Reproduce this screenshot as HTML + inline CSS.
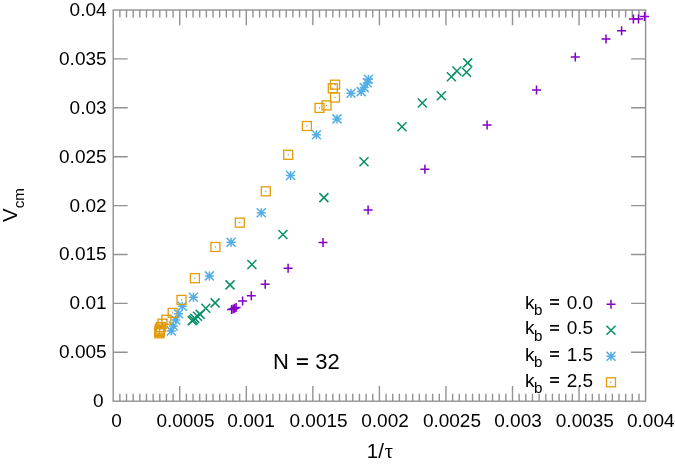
<!DOCTYPE html><html lang="en"><head><meta charset="utf-8"><style>html,body{margin:0;padding:0;background:#fff;}svg{display:block;will-change:transform;}text{font-family:"Liberation Sans",sans-serif;fill:#000;}</style></head><body>
<svg width="675" height="465" viewBox="0 0 675 465">
<rect width="675" height="465" fill="#fff"/>
<path d="M119.86 401.20V393.80M119.86 10.00V17.40M126.51 401.20V393.80M126.51 10.00V17.40M133.16 401.20V393.80M133.16 10.00V17.40M139.82 401.20V393.80M139.82 10.00V17.40M146.47 401.20V393.80M146.47 10.00V17.40M153.13 401.20V393.80M153.13 10.00V17.40M159.78 401.20V393.80M159.78 10.00V17.40M166.44 401.20V393.80M166.44 10.00V17.40M173.09 401.20V393.80M173.09 10.00V17.40M179.75 401.20V386.00M179.75 10.00V25.20M186.41 401.20V393.80M186.41 10.00V17.40M193.06 401.20V393.80M193.06 10.00V17.40M199.72 401.20V393.80M199.72 10.00V17.40M206.37 401.20V393.80M206.37 10.00V17.40M213.02 401.20V393.80M213.02 10.00V17.40M219.68 401.20V393.80M219.68 10.00V17.40M226.33 401.20V393.80M226.33 10.00V17.40M232.99 401.20V393.80M232.99 10.00V17.40M239.64 401.20V393.80M239.64 10.00V17.40M246.30 401.20V386.00M246.30 10.00V25.20M252.96 401.20V393.80M252.96 10.00V17.40M259.61 401.20V393.80M259.61 10.00V17.40M266.26 401.20V393.80M266.26 10.00V17.40M272.92 401.20V393.80M272.92 10.00V17.40M279.57 401.20V393.80M279.57 10.00V17.40M286.23 401.20V393.80M286.23 10.00V17.40M292.88 401.20V393.80M292.88 10.00V17.40M299.54 401.20V393.80M299.54 10.00V17.40M306.19 401.20V393.80M306.19 10.00V17.40M312.85 401.20V386.00M312.85 10.00V25.20M319.50 401.20V393.80M319.50 10.00V17.40M326.16 401.20V393.80M326.16 10.00V17.40M332.81 401.20V393.80M332.81 10.00V17.40M339.47 401.20V393.80M339.47 10.00V17.40M346.12 401.20V393.80M346.12 10.00V17.40M352.78 401.20V393.80M352.78 10.00V17.40M359.44 401.20V393.80M359.44 10.00V17.40M366.09 401.20V393.80M366.09 10.00V17.40M372.75 401.20V393.80M372.75 10.00V17.40M379.40 401.20V386.00M379.40 10.00V25.20M386.06 401.20V393.80M386.06 10.00V17.40M392.71 401.20V393.80M392.71 10.00V17.40M399.37 401.20V393.80M399.37 10.00V17.40M406.02 401.20V393.80M406.02 10.00V17.40M412.68 401.20V393.80M412.68 10.00V17.40M419.33 401.20V393.80M419.33 10.00V17.40M425.98 401.20V393.80M425.98 10.00V17.40M432.64 401.20V393.80M432.64 10.00V17.40M439.29 401.20V393.80M439.29 10.00V17.40M445.95 401.20V386.00M445.95 10.00V25.20M452.61 401.20V393.80M452.61 10.00V17.40M459.26 401.20V393.80M459.26 10.00V17.40M465.91 401.20V393.80M465.91 10.00V17.40M472.57 401.20V393.80M472.57 10.00V17.40M479.23 401.20V393.80M479.23 10.00V17.40M485.88 401.20V393.80M485.88 10.00V17.40M492.53 401.20V393.80M492.53 10.00V17.40M499.19 401.20V393.80M499.19 10.00V17.40M505.84 401.20V393.80M505.84 10.00V17.40M512.50 401.20V386.00M512.50 10.00V25.20M519.15 401.20V393.80M519.15 10.00V17.40M525.81 401.20V393.80M525.81 10.00V17.40M532.47 401.20V393.80M532.47 10.00V17.40M539.12 401.20V393.80M539.12 10.00V17.40M545.78 401.20V393.80M545.78 10.00V17.40M552.43 401.20V393.80M552.43 10.00V17.40M559.09 401.20V393.80M559.09 10.00V17.40M565.74 401.20V393.80M565.74 10.00V17.40M572.39 401.20V393.80M572.39 10.00V17.40M579.05 401.20V386.00M579.05 10.00V25.20M585.71 401.20V393.80M585.71 10.00V17.40M592.36 401.20V393.80M592.36 10.00V17.40M599.01 401.20V393.80M599.01 10.00V17.40M605.67 401.20V393.80M605.67 10.00V17.40M612.33 401.20V393.80M612.33 10.00V17.40M618.98 401.20V393.80M618.98 10.00V17.40M625.63 401.20V393.80M625.63 10.00V17.40M632.29 401.20V393.80M632.29 10.00V17.40M638.95 401.20V393.80M638.95 10.00V17.40M113.20 352.30H127.70M645.60 352.30H631.10M113.20 303.40H127.70M645.60 303.40H631.10M113.20 254.50H127.70M645.60 254.50H631.10M113.20 205.60H127.70M645.60 205.60H631.10M113.20 156.70H127.70M645.60 156.70H631.10M113.20 107.80H127.70M645.60 107.80H631.10M113.20 58.90H127.70M645.60 58.90H631.10" stroke="#929292" stroke-width="1.4" fill="none"/>
<rect x="113.20" y="10.00" width="532.40" height="391.20" stroke="#929292" stroke-width="1.4" fill="none"/>
<text x="103.6" y="407.10" font-size="19" text-anchor="end">0</text>
<text x="106.6" y="358.20" font-size="19" text-anchor="end">0.005</text>
<text x="106.6" y="309.30" font-size="19" text-anchor="end">0.01</text>
<text x="106.6" y="260.40" font-size="19" text-anchor="end">0.015</text>
<text x="106.6" y="211.50" font-size="19" text-anchor="end">0.02</text>
<text x="106.6" y="162.60" font-size="19" text-anchor="end">0.025</text>
<text x="106.6" y="113.70" font-size="19" text-anchor="end">0.03</text>
<text x="106.6" y="64.80" font-size="19" text-anchor="end">0.035</text>
<text x="106.6" y="15.90" font-size="19" text-anchor="end">0.04</text>
<text x="116.60" y="427.0" font-size="19" text-anchor="middle">0</text>
<text x="185.45" y="427.0" font-size="19" text-anchor="middle">0.0005</text>
<text x="251.10" y="427.0" font-size="19" text-anchor="middle">0.001</text>
<text x="318.55" y="427.0" font-size="19" text-anchor="middle">0.0015</text>
<text x="385.00" y="427.0" font-size="19" text-anchor="middle">0.002</text>
<text x="451.95" y="427.0" font-size="19" text-anchor="middle">0.0025</text>
<text x="518.00" y="427.0" font-size="19" text-anchor="middle">0.003</text>
<text x="584.85" y="427.0" font-size="19" text-anchor="middle">0.0035</text>
<text x="650.80" y="427.0" font-size="19" text-anchor="middle">0.004</text>
<text x="366.8" y="458.2" font-size="20.5">1/<tspan font-family="Liberation Serif" dx="0.8">τ</tspan></text>
<text transform="translate(17.3 222) rotate(-90)" font-size="20.5">V<tspan font-size="15.2" dy="6.9">cm</tspan></text>
<rect x="296.9" y="358.25" width="11" height="1.9" fill="#000"/><rect x="296.9" y="363.05" width="11" height="1.9" fill="#000"/>
<text y="369.2" font-size="22"><tspan x="273.1">N</tspan><tspan x="315.2">32</tspan></text>
<g fill="none" stroke-width="1.5" stroke-linecap="butt">
<path d="M227.10 309.50H236.10M231.60 305.00V314.00" stroke="#8400c4"/>
<path d="M228.70 308.90H237.70M233.20 304.40V313.40" stroke="#8400c4"/>
<path d="M230.20 308.20H239.20M234.70 303.70V312.70" stroke="#8400c4"/>
<path d="M231.60 307.60H240.60M236.10 303.10V312.10" stroke="#8400c4"/>
<path d="M238.10 301.10H247.10M242.60 296.60V305.60" stroke="#8400c4"/>
<path d="M246.80 295.70H255.80M251.30 291.20V300.20" stroke="#8400c4"/>
<path d="M260.70 284.30H269.70M265.20 279.80V288.80" stroke="#8400c4"/>
<path d="M283.60 268.20H292.60M288.10 263.70V272.70" stroke="#8400c4"/>
<path d="M318.50 242.60H327.50M323.00 238.10V247.10" stroke="#8400c4"/>
<path d="M363.60 209.90H372.60M368.10 205.40V214.40" stroke="#8400c4"/>
<path d="M420.40 169.30H429.40M424.90 164.80V173.80" stroke="#8400c4"/>
<path d="M482.60 125.00H491.60M487.10 120.50V129.50" stroke="#8400c4"/>
<path d="M532.00 89.90H541.00M536.50 85.40V94.40" stroke="#8400c4"/>
<path d="M570.80 56.90H579.80M575.30 52.40V61.40" stroke="#8400c4"/>
<path d="M601.50 38.90H610.50M606.00 34.40V43.40" stroke="#8400c4"/>
<path d="M617.10 30.70H626.10M621.60 26.20V35.20" stroke="#8400c4"/>
<path d="M628.90 19.10H637.90M633.40 14.60V23.60" stroke="#8400c4"/>
<path d="M634.00 19.00H643.00M638.50 14.50V23.50" stroke="#8400c4"/>
<path d="M640.10 16.40H649.10M644.60 11.90V20.90" stroke="#8400c4"/>
<path d="M187.70 316.30L196.70 325.30M187.70 325.30L196.70 316.30" stroke="#078f69"/>
<path d="M188.90 315.20L197.90 324.20M188.90 324.20L197.90 315.20" stroke="#078f69"/>
<path d="M190.30 313.90L199.30 322.90M190.30 322.90L199.30 313.90" stroke="#078f69"/>
<path d="M192.90 311.70L201.90 320.70M192.90 320.70L201.90 311.70" stroke="#078f69"/>
<path d="M195.70 309.90L204.70 318.90M195.70 318.90L204.70 309.90" stroke="#078f69"/>
<path d="M201.30 303.70L210.30 312.70M201.30 312.70L210.30 303.70" stroke="#078f69"/>
<path d="M210.60 298.40L219.60 307.40M210.60 307.40L219.60 298.40" stroke="#078f69"/>
<path d="M225.50 280.40L234.50 289.40M225.50 289.40L234.50 280.40" stroke="#078f69"/>
<path d="M247.40 260.00L256.40 269.00M247.40 269.00L256.40 260.00" stroke="#078f69"/>
<path d="M278.40 230.00L287.40 239.00M278.40 239.00L287.40 230.00" stroke="#078f69"/>
<path d="M319.40 193.10L328.40 202.10M319.40 202.10L328.40 193.10" stroke="#078f69"/>
<path d="M359.50 157.30L368.50 166.30M359.50 166.30L368.50 157.30" stroke="#078f69"/>
<path d="M397.50 122.30L406.50 131.30M397.50 131.30L406.50 122.30" stroke="#078f69"/>
<path d="M417.80 98.50L426.80 107.50M417.80 107.50L426.80 98.50" stroke="#078f69"/>
<path d="M436.80 91.20L445.80 100.20M436.80 100.20L445.80 91.20" stroke="#078f69"/>
<path d="M446.90 72.20L455.90 81.20M446.90 81.20L455.90 72.20" stroke="#078f69"/>
<path d="M452.40 66.50L461.40 75.50M452.40 75.50L461.40 66.50" stroke="#078f69"/>
<path d="M462.00 67.80L471.00 76.80M462.00 76.80L471.00 67.80" stroke="#078f69"/>
<path d="M463.20 58.40L472.20 67.40M463.20 67.40L472.20 58.40" stroke="#078f69"/>
<path d="M166.80 331.00H175.80M171.30 326.50V335.50M166.80 326.50L175.80 335.50M166.80 335.50L175.80 326.50" stroke="#52aee4"/>
<path d="M168.80 326.00H177.80M173.30 321.50V330.50M168.80 321.50L177.80 330.50M168.80 330.50L177.80 321.50" stroke="#52aee4"/>
<path d="M171.30 320.00H180.30M175.80 315.50V324.50M171.30 315.50L180.30 324.50M171.30 324.50L180.30 315.50" stroke="#52aee4"/>
<path d="M174.00 313.80H183.00M178.50 309.30V318.30M174.00 309.30L183.00 318.30M174.00 318.30L183.00 309.30" stroke="#52aee4"/>
<path d="M177.80 306.30H186.80M182.30 301.80V310.80M177.80 301.80L186.80 310.80M177.80 310.80L186.80 301.80" stroke="#52aee4"/>
<path d="M188.90 297.30H197.90M193.40 292.80V301.80M188.90 292.80L197.90 301.80M188.90 301.80L197.90 292.80" stroke="#52aee4"/>
<path d="M204.90 275.90H213.90M209.40 271.40V280.40M204.90 271.40L213.90 280.40M204.90 280.40L213.90 271.40" stroke="#52aee4"/>
<path d="M226.60 242.30H235.60M231.10 237.80V246.80M226.60 237.80L235.60 246.80M226.60 246.80L235.60 237.80" stroke="#52aee4"/>
<path d="M256.80 212.80H265.80M261.30 208.30V217.30M256.80 208.30L265.80 217.30M256.80 217.30L265.80 208.30" stroke="#52aee4"/>
<path d="M286.10 175.50H295.10M290.60 171.00V180.00M286.10 171.00L295.10 180.00M286.10 180.00L295.10 171.00" stroke="#52aee4"/>
<path d="M311.90 134.80H320.90M316.40 130.30V139.30M311.90 130.30L320.90 139.30M311.90 139.30L320.90 130.30" stroke="#52aee4"/>
<path d="M332.50 118.90H341.50M337.00 114.40V123.40M332.50 114.40L341.50 123.40M332.50 123.40L341.50 114.40" stroke="#52aee4"/>
<path d="M346.50 93.20H355.50M351.00 88.70V97.70M346.50 88.70L355.50 97.70M346.50 97.70L355.50 88.70" stroke="#52aee4"/>
<path d="M356.70 91.60H365.70M361.20 87.10V96.10M356.70 87.10L365.70 96.10M356.70 96.10L365.70 87.10" stroke="#52aee4"/>
<path d="M359.70 87.60H368.70M364.20 83.10V92.10M359.70 83.10L368.70 92.10M359.70 92.10L368.70 83.10" stroke="#52aee4"/>
<path d="M362.80 82.80H371.80M367.30 78.30V87.30M362.80 78.30L371.80 87.30M362.80 87.30L371.80 78.30" stroke="#52aee4"/>
<path d="M363.90 79.30H372.90M368.40 74.80V83.80M363.90 74.80L372.90 83.80M363.90 83.80L372.90 74.80" stroke="#52aee4"/>
<rect x="154.90" y="328.80" width="9.00" height="9.00" stroke="#e29c08" stroke-width="1.3" fill="none"/><rect x="158.90" y="332.80" width="1" height="1" fill="#7a6a50" stroke="none"/>
<rect x="155.00" y="327.70" width="9.00" height="9.00" stroke="#e29c08" stroke-width="1.3" fill="none"/><rect x="159.00" y="331.70" width="1" height="1" fill="#7a6a50" stroke="none"/>
<rect x="155.10" y="326.50" width="9.00" height="9.00" stroke="#e29c08" stroke-width="1.3" fill="none"/><rect x="159.10" y="330.50" width="1" height="1" fill="#7a6a50" stroke="none"/>
<rect x="155.30" y="325.30" width="9.00" height="9.00" stroke="#e29c08" stroke-width="1.3" fill="none"/><rect x="159.30" y="329.30" width="1" height="1" fill="#7a6a50" stroke="none"/>
<rect x="155.50" y="324.10" width="9.00" height="9.00" stroke="#e29c08" stroke-width="1.3" fill="none"/><rect x="159.50" y="328.10" width="1" height="1" fill="#7a6a50" stroke="none"/>
<rect x="156.50" y="322.50" width="9.00" height="9.00" stroke="#e29c08" stroke-width="1.3" fill="none"/><rect x="160.50" y="326.50" width="1" height="1" fill="#7a6a50" stroke="none"/>
<rect x="158.00" y="319.20" width="9.00" height="9.00" stroke="#e29c08" stroke-width="1.3" fill="none"/><rect x="162.00" y="323.20" width="1" height="1" fill="#7a6a50" stroke="none"/>
<rect x="161.90" y="315.30" width="9.00" height="9.00" stroke="#e29c08" stroke-width="1.3" fill="none"/><rect x="165.90" y="319.30" width="1" height="1" fill="#7a6a50" stroke="none"/>
<rect x="168.20" y="308.40" width="9.00" height="9.00" stroke="#e29c08" stroke-width="1.3" fill="none"/><rect x="172.20" y="312.40" width="1" height="1" fill="#7a6a50" stroke="none"/>
<rect x="177.00" y="295.40" width="9.00" height="9.00" stroke="#e29c08" stroke-width="1.3" fill="none"/><rect x="181.00" y="299.40" width="1" height="1" fill="#7a6a50" stroke="none"/>
<rect x="190.40" y="273.70" width="9.00" height="9.00" stroke="#e29c08" stroke-width="1.3" fill="none"/><rect x="194.40" y="277.70" width="1" height="1" fill="#7a6a50" stroke="none"/>
<rect x="210.90" y="242.50" width="9.00" height="9.00" stroke="#e29c08" stroke-width="1.3" fill="none"/><rect x="214.90" y="246.50" width="1" height="1" fill="#7a6a50" stroke="none"/>
<rect x="235.30" y="218.10" width="9.00" height="9.00" stroke="#e29c08" stroke-width="1.3" fill="none"/><rect x="239.30" y="222.10" width="1" height="1" fill="#7a6a50" stroke="none"/>
<rect x="261.30" y="186.80" width="9.00" height="9.00" stroke="#e29c08" stroke-width="1.3" fill="none"/><rect x="265.30" y="190.80" width="1" height="1" fill="#7a6a50" stroke="none"/>
<rect x="283.70" y="150.30" width="9.00" height="9.00" stroke="#e29c08" stroke-width="1.3" fill="none"/><rect x="287.70" y="154.30" width="1" height="1" fill="#7a6a50" stroke="none"/>
<rect x="302.40" y="121.50" width="9.00" height="9.00" stroke="#e29c08" stroke-width="1.3" fill="none"/><rect x="306.40" y="125.50" width="1" height="1" fill="#7a6a50" stroke="none"/>
<rect x="315.00" y="103.40" width="9.00" height="9.00" stroke="#e29c08" stroke-width="1.3" fill="none"/><rect x="319.00" y="107.40" width="1" height="1" fill="#7a6a50" stroke="none"/>
<rect x="322.00" y="100.90" width="9.00" height="9.00" stroke="#e29c08" stroke-width="1.3" fill="none"/><rect x="326.00" y="104.90" width="1" height="1" fill="#7a6a50" stroke="none"/>
<rect x="330.50" y="93.00" width="9.00" height="9.00" stroke="#e29c08" stroke-width="1.3" fill="none"/><rect x="334.50" y="97.00" width="1" height="1" fill="#7a6a50" stroke="none"/>
<rect x="328.30" y="83.80" width="9.00" height="9.00" stroke="#e29c08" stroke-width="1.3" fill="none"/><rect x="332.30" y="87.80" width="1" height="1" fill="#7a6a50" stroke="none"/>
<rect x="330.60" y="80.20" width="9.00" height="9.00" stroke="#e29c08" stroke-width="1.3" fill="none"/><rect x="334.60" y="84.20" width="1" height="1" fill="#7a6a50" stroke="none"/>
<path d="M606.50 304.30H615.50M611.00 299.80V308.80" stroke="#8400c4"/>
<path d="M606.50 325.70L615.50 334.70M606.50 334.70L615.50 325.70" stroke="#078f69"/>
<path d="M606.50 356.30H615.50M611.00 351.80V360.80M606.50 351.80L615.50 360.80M606.50 360.80L615.50 351.80" stroke="#52aee4"/>
<rect x="606.50" y="377.80" width="9.00" height="9.00" stroke="#e29c08" stroke-width="1.3" fill="none"/><rect x="610.50" y="381.80" width="1" height="1" fill="#7a6a50" stroke="none"/>
</g>
<text x="525" y="308.50" font-size="19">k</text><text x="534.1" y="315.30" font-size="15.2">b</text><rect x="550.1" y="299.05" width="8.9" height="1.7" fill="#000"/><rect x="550.1" y="303.25" width="8.9" height="1.7" fill="#000"/><text x="593.1" y="308.50" font-size="19" text-anchor="end">0.0</text>
<text x="525" y="334.40" font-size="19">k</text><text x="534.1" y="341.20" font-size="15.2">b</text><rect x="550.1" y="324.95" width="8.9" height="1.7" fill="#000"/><rect x="550.1" y="329.15" width="8.9" height="1.7" fill="#000"/><text x="593.1" y="334.40" font-size="19" text-anchor="end">0.5</text>
<text x="525" y="360.50" font-size="19">k</text><text x="534.1" y="367.30" font-size="15.2">b</text><rect x="550.1" y="351.05" width="8.9" height="1.7" fill="#000"/><rect x="550.1" y="355.25" width="8.9" height="1.7" fill="#000"/><text x="593.1" y="360.50" font-size="19" text-anchor="end">1.5</text>
<text x="525" y="386.50" font-size="19">k</text><text x="534.1" y="393.30" font-size="15.2">b</text><rect x="550.1" y="377.05" width="8.9" height="1.7" fill="#000"/><rect x="550.1" y="381.25" width="8.9" height="1.7" fill="#000"/><text x="593.1" y="386.50" font-size="19" text-anchor="end">2.5</text>
</svg></body></html>
